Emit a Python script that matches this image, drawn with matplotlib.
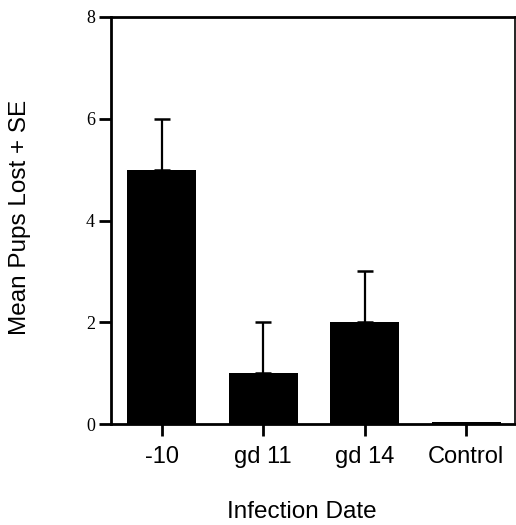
import numpy as np
import matplotlib.pyplot as plt

# mean pups lost per infection date, with upper SE
groups = ["-10", "gd 11", "gd 14", "Control"]
means = [5.0, 1.0, 2.0, 0.05]
se = [1.0, 1.0, 1.0, 0.0]

fig = plt.figure(figsize=(5.16, 5.25), dpi=100)
ax = fig.add_axes([0.215, 0.192, 0.783, 0.776])

x = np.arange(len(groups))
m = np.array(means)
e = np.array(se)
ax.bar(x, m, width=0.68, color="black", zorder=2)
# only the upper half of the error bar, like the original
mask = e > 0
ax.errorbar(x[mask], m[mask], yerr=[np.zeros(mask.sum()), e[mask]],
            fmt="none", ecolor="black", elinewidth=1.6, capsize=6, capthick=1.8, zorder=3)

ax.set_xlim(-0.5, 3.48)
ax.set_ylim(0, 8)
ax.set_yticks([0, 2, 4, 6, 8])
ax.set_xticks(x)
ax.set_xticklabels(groups, family="Liberation Sans", fontsize=17)
for lab in ax.get_yticklabels():
    lab.set_family("Liberation Serif")
    lab.set_fontsize(13)

for s in ["left", "top", "bottom"]:
    ax.spines[s].set_linewidth(2)
ax.spines["right"].set_linewidth(1.2)
ax.tick_params(axis="both", direction="out", length=8.5, width=2)
ax.tick_params(axis="y", pad=3)
ax.tick_params(axis="x", pad=7)

fig.text(0.039, 0.585, "Mean Pups Lost + SE", rotation=90, ha="center", va="center",
         family="Liberation Sans", fontsize=17.5)
fig.text(0.585, 0.025, "Infection Date", ha="center", va="center",
         family="Liberation Sans", fontsize=17.5)

plt.savefig("out.png", dpi=100)
